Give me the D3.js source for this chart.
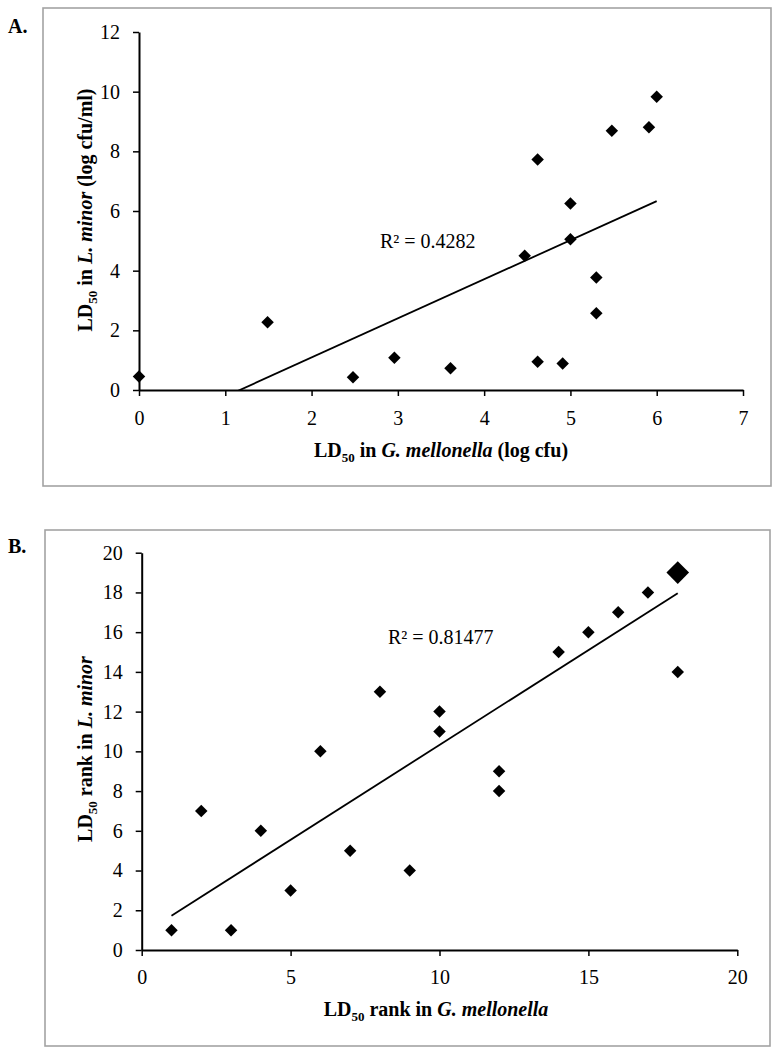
<!DOCTYPE html>
<html><head><meta charset="utf-8">
<script src="https://cdn.jsdelivr.net/npm/d3@7"></script>
<style>
body{margin:0;background:#fff;}
svg text{font-family:"Liberation Serif","Times New Roman",serif;fill:#000;}
</style></head>
<body><svg id="c" width="780" height="1055"></svg>
<script>
// Panel A data: LD50 in G. mellonella (log cfu) vs LD50 in L. minor (log cfu/ml)
const aX = [0, 1.49, 2.48, 2.96, 3.61, 4.47, 4.62, 4.62, 4.91, 5.0, 5.0, 5.3, 5.3, 5.48, 5.91, 6.0];
const aY = [0.45, 2.27, 0.43, 1.08, 0.73, 4.5, 7.73, 0.95, 0.89, 6.25, 5.05, 3.77, 2.57, 8.69, 8.81, 9.83];
const aXTicks = [0,1,2,3,4,5,6,7];
const aYTicks = [0,2,4,6,8,10,12];
const aTrend = {slope: 1.311, intercept: -1.533, x0: 0, x1: 6.0};
const aR2 = "R² = 0.4282";

// Panel B data: LD50 rank in G. mellonella vs LD50 rank in L. minor
const bX = [1, 2, 3, 4, 5, 6, 7, 8, 9, 10, 10, 12, 12, 14, 15, 16, 17, 18, 18];
const bY = [1, 7, 1, 6, 3, 10, 5, 13, 4, 12, 11, 9, 8, 15, 16, 17, 18, 19, 14];
const bBig = [false,false,false,false,false,false,false,false,false,false,false,false,false,false,false,false,false,true,false];
const bXTicks = [0,5,10,15,20];
const bYTicks = [0,2,4,6,8,10,12,14,16,18,20];
const bTrend = {slope: 0.9547, intercept: 0.775, x0: 1, x1: 18};
const bR2 = "R² = 0.81477";

const svg = d3.select("#c");

function panel(o){
  const g = svg.append("g");
  g.append("rect").attr("x",o.frame[0]).attr("y",o.frame[1])
    .attr("width",o.frame[2]-o.frame[0]).attr("height",o.frame[3]-o.frame[1])
    .attr("fill","none").attr("stroke","#a3a3a3").attr("stroke-width",1.6);
  g.append("text").attr("x",8).attr("y",o.letterY).attr("font-weight","bold")
    .attr("font-size",20).text(o.letter);

  const x = d3.scaleLinear().domain(o.xDom).range(o.xRange);
  const y = d3.scaleLinear().domain(o.yDom).range(o.yRange);

  const clipId = "clip"+o.letter[0];
  g.append("clipPath").attr("id",clipId).append("rect")
    .attr("x",o.xRange[0]).attr("y",o.yRange[1])
    .attr("width",o.xRange[1]-o.xRange[0]).attr("height",o.yRange[0]-o.yRange[1]);

  const t = o.trend;
  g.append("line").attr("clip-path","url(#"+clipId+")")
    .attr("x1",x(t.x0)).attr("y1",y(t.slope*t.x0+t.intercept))
    .attr("x2",x(t.x1)).attr("y2",y(t.slope*t.x1+t.intercept))
    .attr("stroke","#000").attr("stroke-width",1.8);

  const xa = g.append("g").attr("transform","translate(0,"+o.yRange[0]+")")
    .call(d3.axisBottom(x).tickValues(o.xTicks).tickSize(6).tickSizeOuter(0).tickFormat(d3.format("d")));
  const ya = g.append("g").attr("transform","translate("+o.xRange[0]+",0)")
    .call(d3.axisLeft(y).tickValues(o.yTicks).tickSize(6).tickSizeOuter(0).tickPadding(13).tickFormat(d3.format("d")));
  [xa,ya].forEach(a=>{
    a.select(".domain").attr("stroke","#000").attr("stroke-width",2);
    a.selectAll(".tick line").attr("stroke","#000").attr("stroke-width",1.5);
    a.selectAll(".tick text").attr("font-size",20).attr("font-family",null);
  });
  xa.selectAll(".tick text").attr("dy",null).attr("y",o.xTickBase);

  const sym = d3.symbol().type(d3.symbolSquare);
  g.selectAll("path.pt").data(o.xs.map((v,i)=>({x:v,y:o.ys[i],big:o.big?o.big[i]:false})))
    .join("path").attr("class","pt")
    .attr("d",d=>sym.size(d.big?256:78)())
    .attr("transform",d=>"translate("+x(d.x)+","+y(d.y)+") rotate(45)")
    .attr("fill","#000");

  g.append("text").attr("x",o.r2Pos[0]).attr("y",o.r2Pos[1]).attr("font-size",20).text(o.r2);

  const xt = g.append("text").attr("x",o.xTitleX).attr("y",o.xTitleY)
    .attr("text-anchor","middle").attr("font-size",20).attr("font-weight","bold");
  o.xTitle.forEach(p=>{
    const s = xt.append("tspan").text(p.t);
    if(p.sub){ s.attr("font-size",13).attr("dy",5); }
    if(p.after){ s.attr("dy",-5); }
    if(p.it){ s.attr("font-style","italic"); }
  });
  const yt = g.append("text").attr("transform","translate("+o.yTitleX+","+o.yTitleY+") rotate(-90)")
    .attr("text-anchor","middle").attr("font-size",20).attr("font-weight","bold");
  o.yTitle.forEach(p=>{
    const s = yt.append("tspan").text(p.t);
    if(p.sub){ s.attr("font-size",13).attr("dy",5); }
    if(p.after){ s.attr("dy",-5); }
    if(p.it){ s.attr("font-style","italic"); }
  });
}

panel({
  letter:"A.", letterY:33, frame:[43,8,771,486],
  xDom:[0,7], yDom:[0,12], xRange:[139,743], yRange:[390,32],
  xTicks:aXTicks, yTicks:aYTicks, xTickBase:35,
  xs:aX, ys:aY, trend:aTrend, r2:aR2, r2Pos:[380,248],
  xTitleX:441, xTitleY:457,
  xTitle:[{t:"LD"},{t:"50",sub:true},{t:" in ",after:true},{t:"G. mellonella",it:true},{t:" (log cfu)"}],
  yTitleX:92, yTitleY:210,
  yTitle:[{t:"LD"},{t:"50",sub:true},{t:" in ",after:true},{t:"L. minor",it:true},{t:" (log cfu/ml)"}]
});

panel({
  letter:"B.", letterY:553, frame:[45,530,770,1046],
  xDom:[0,20], yDom:[0,20], xRange:[141.7,737.3], yRange:[950,552.7],
  xTicks:bXTicks, yTicks:bYTicks, xTickBase:34,
  xs:bX, ys:bY, big:bBig, trend:bTrend, r2:bR2, r2Pos:[388,644],
  xTitleX:436, xTitleY:1016,
  xTitle:[{t:"LD"},{t:"50",sub:true},{t:" rank in ",after:true},{t:"G. mellonella",it:true}],
  yTitleX:92, yTitleY:749,
  yTitle:[{t:"LD"},{t:"50",sub:true},{t:" rank in ",after:true},{t:"L. minor",it:true}]
});
</script></body></html>
